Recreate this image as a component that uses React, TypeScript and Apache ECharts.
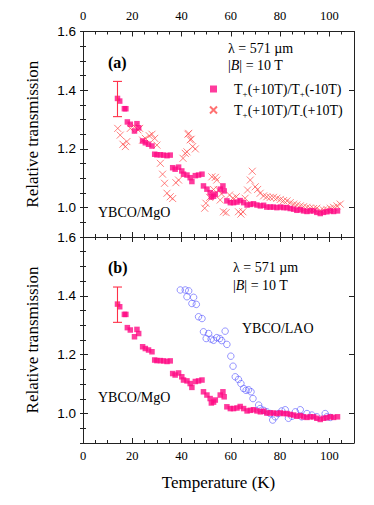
import React, { useEffect, useRef } from "react";
import * as echarts from "echarts";

// ---------- data ----------
const xTickValues = [0, 20, 40, 60, 80, 100];
const yTickValues = [1.0, 1.2, 1.4, 1.6];

// YBCO/MgO : T+(+10T)/T+(-10T)
const mgoT = [14.0, 14.9, 16.8, 17.4, 18.0, 19.2, 20.9, 21.9, 22.6, 24.2, 25.3, 26.6, 28.0, 29.1, 30.0, 31.4, 32.7, 34.1, 35.4, 36.4, 37.4, 38.8, 40.1, 40.8, 42.2, 43.5, 44.2, 45.6, 46.9, 48.3, 48.9, 50.3, 51.6, 52.1, 53.0, 53.7, 55.7, 56.8, 57.3, 58.4, 59.8, 61.1, 62.5, 63.8, 65.2, 66.6, 67.9, 69.2, 70.6, 72.0, 73.3, 74.6, 76.0, 77.3, 78.7, 80.1, 81.4, 82.8, 84.1, 85.5, 86.8, 88.2, 89.5, 90.9, 92.2, 93.6, 94.9, 96.3, 97.6, 99.0, 100.4, 101.7, 103.3];
const mgoR = [1.372, 1.363, 1.337, 1.337, 1.292, 1.284, 1.261, 1.286, 1.272, 1.227, 1.221, 1.216, 1.210, 1.182, 1.180, 1.180, 1.179, 1.177, 1.179, 1.136, 1.131, 1.138, 1.125, 1.114, 1.111, 1.102, 1.089, 1.109, 1.111, 1.114, 1.074, 1.063, 1.051, 1.036, 1.039, 1.046, 1.063, 1.074, 1.057, 1.023, 1.017, 1.017, 1.019, 1.024, 1.017, 1.009, 1.011, 1.013, 1.009, 1.006, 1.008, 1.002, 1.002, 1.002, 1.000, 1.002, 1.000, 1.000, 0.997, 0.995, 0.991, 0.993, 0.989, 0.987, 0.989, 0.989, 0.984, 0.980, 0.984, 0.986, 0.989, 0.987, 0.989];

// T+(+10T)/T-(+10T)
const crossT = [14.1, 15.1, 16.2, 17.2, 17.8, 19.2, 21.0, 22.3, 23.0, 24.2, 25.3, 26.9, 28.0, 29.1, 30.0, 31.4, 32.3, 33.1, 34.1, 35.4, 36.4, 37.7, 38.8, 40.6, 41.5, 42.2, 42.6, 42.9, 43.5, 43.9, 44.5, 45.6, 49.4, 49.9, 51.4, 52.3, 53.0, 53.7, 54.3, 55.0, 55.7, 56.2, 57.0, 58.1, 59.5, 60.8, 62.2, 63.1, 64.1, 64.9, 65.8, 66.8, 67.9, 68.7, 69.9, 70.9, 71.9, 73.3, 74.6, 76.0, 77.3, 78.7, 80.1, 81.4, 82.8, 84.1, 85.5, 86.8, 88.2, 89.5, 90.9, 92.2, 93.6, 94.9, 96.3, 97.6, 99.0, 100.4, 101.7, 103.1, 104.4];
const crossR = [1.270, 1.247, 1.216, 1.208, 1.225, 1.270, 1.276, 1.265, 1.270, 1.230, 1.236, 1.245, 1.250, 1.236, 1.213, 1.151, 1.114, 1.083, 1.049, 1.037, 1.031, 1.085, 1.094, 1.168, 1.185, 1.190, 1.250, 1.253, 1.231, 1.233, 1.208, 1.200, 0.998, 1.015, 1.035, 1.105, 1.062, 1.103, 1.094, 1.060, 1.026, 1.047, 0.986, 0.983, 1.043, 1.032, 1.037, 0.986, 0.978, 0.986, 1.032, 1.060, 1.094, 1.124, 1.071, 1.062, 1.049, 1.040, 1.037, 1.035, 1.035, 1.032, 1.028, 1.024, 1.023, 1.017, 1.012, 1.009, 1.006, 1.003, 1.001, 0.998, 0.997, 0.998, 0.990, 0.992, 0.994, 0.998, 1.001, 1.006, 1.012];

// YBCO/LAO
const laoT = [39.5, 41.5, 42.9, 42.2, 44.9, 44.2, 46.0, 46.9, 48.3, 48.9, 50.0, 51.0, 52.0, 53.0, 54.3, 55.5, 56.3, 57.7, 58.4, 60.0, 60.9, 61.8, 63.1, 64.1, 65.2, 66.2, 67.2, 68.2, 69.0, 71.3, 71.9, 73.3, 74.6, 76.0, 77.0, 78.0, 79.3, 80.7, 82.1, 83.4, 84.8, 86.2, 88.2, 88.8, 90.9, 92.9, 94.9, 98.3, 99.0, 100.4];
const laoR = [1.420, 1.420, 1.417, 1.397, 1.395, 1.374, 1.371, 1.329, 1.323, 1.278, 1.255, 1.272, 1.253, 1.249, 1.258, 1.255, 1.248, 1.280, 1.235, 1.195, 1.161, 1.125, 1.116, 1.102, 1.085, 1.079, 1.081, 1.074, 1.051, 1.029, 1.017, 1.011, 1.006, 1.000, 0.978, 0.989, 1.000, 1.009, 1.013, 0.984, 0.991, 1.006, 1.013, 0.989, 1.000, 0.995, 0.989, 1.000, 0.989, 0.987];

// error bar: [T, low, high]
const errorBar = [[14.0, 1.31, 1.43]];

const name1 = "T+(+10T)/T+(-10T)";
const name2 = "T+(+10T)/T-(+10T)";

// ---------- styling ----------
const SERIF = "'Liberation Serif', 'DejaVu Serif', serif";
const SANS = "'Liberation Sans', Arial, sans-serif";
const PINK = "#ff0a84";
const RED = "#ff4d4d";
const BLUE = "#5a5aff";
const ERR = "#ff3048";

const GRID_LEFT = 83;
const GRID_RIGHT = 20;
const GRIDS = [
  { left: GRID_LEFT, right: GRID_RIGHT, top: 31.5, height: 205.5 },
  { left: GRID_LEFT, right: GRID_RIGHT, top: 237, height: 206 },
];

function xAxes(gridIndex: number, position: string, showLabels: boolean, name?: string) {
  const major: any = {
    type: "value",
    gridIndex,
    position,
    min: 0,
    max: 110,
    axisLine: { show: true, onZero: false, lineStyle: { color: "#222", width: 1 } },
    axisTick: { show: true, inside: true, length: 5, customValues: xTickValues, lineStyle: { color: "#222" } },
    axisLabel: { show: showLabels, customValues: xTickValues, fontFamily: SERIF, fontSize: 12.5, color: "#000", margin: position === "top" ? 9 : 6 },
    splitLine: { show: false },
  };
  if (name) {
    major.name = name;
    major.nameLocation = "middle";
    major.nameGap = 31;
    major.nameTextStyle = { fontFamily: SERIF, fontSize: 17, color: "#000" };
  }
  const minor: any = {
    type: "value",
    gridIndex,
    position,
    min: 0,
    max: 110,
    interval: 5,
    axisLine: { show: false },
    axisTick: { show: true, inside: true, length: 3, lineStyle: { color: "#222" } },
    axisLabel: { show: false },
    splitLine: { show: false },
  };
  return [major, minor];
}

function yAxes(gridIndex: number, position: string, showLabels: boolean, name?: string) {
  const major: any = {
    type: "value",
    gridIndex,
    position,
    min: 0.9,
    max: 1.6,
    axisLine: { show: true, onZero: false, lineStyle: { color: "#222", width: 1 } },
    axisTick: { show: true, inside: true, length: 5, customValues: yTickValues, lineStyle: { color: "#222" } },
    axisLabel: {
      show: showLabels,
      customValues: yTickValues,
      fontFamily: SANS,
      fontSize: 13.5,
      color: "#000",
      margin: 7,
      formatter: (v: number) => v.toFixed(1),
    },
    splitLine: { show: false },
  };
  if (name) {
    major.name = name;
    major.nameLocation = "middle";
    major.nameGap = 42;
    major.nameTextStyle = { fontFamily: SERIF, fontSize: 17, color: "#000" };
  }
  const minor: any = {
    type: "value",
    gridIndex,
    position,
    min: 0.9,
    max: 1.6,
    interval: 0.05,
    axisLine: { show: false },
    axisTick: { show: true, inside: true, length: 3, lineStyle: { color: "#222" } },
    axisLabel: { show: false },
    splitLine: { show: false },
  };
  return [major, minor];
}

const zip = (a: number[], b: number[]) => a.map((v, i) => [v, b[i]]);

function errorSeries(xIdx: number, yIdx: number) {
  return {
    type: "custom",
    xAxisIndex: xIdx,
    yAxisIndex: yIdx,
    data: errorBar,
    encode: { x: 0, y: [1, 2] },
    silent: true,
    z: 5,
    renderItem: (params: any, api: any) => {
      const x = api.value(0);
      const lo = api.coord([x, api.value(1)]);
      const hi = api.coord([x, api.value(2)]);
      const w = 4.5;
      const style = { stroke: ERR, lineWidth: 1.1 };
      return {
        type: "group",
        children: [
          { type: "line", shape: { x1: lo[0], y1: lo[1], x2: hi[0], y2: hi[1] }, style },
          { type: "line", shape: { x1: lo[0] - w, y1: lo[1], x2: lo[0] + w, y2: lo[1] }, style },
          { type: "line", shape: { x1: hi[0] - w, y1: hi[1], x2: hi[0] + w, y2: hi[1] }, style },
        ],
      };
    },
  };
}

const CROSS = "path://M0,0L10,10M10,0L0,10";

const richSub = {
  g: { width: 12 },
  n: { fontFamily: SERIF, fontSize: 14, color: "#000", lineHeight: 18, verticalAlign: "middle" },
  s: { fontFamily: SERIF, fontSize: 9, color: "#000", lineHeight: 18, verticalAlign: "bottom" },
};

export default function App() {
  const ref = useRef<HTMLDivElement>(null);
  useEffect(() => {
    if (!ref.current) return;
    const chart = echarts.init(ref.current, undefined, { renderer: "svg" });
    const option: any = {
      animation: false,
      backgroundColor: "#fff",
      grid: GRIDS,
      xAxis: [
        ...xAxes(0, "top", true),
        ...xAxes(0, "bottom", false),
        ...xAxes(1, "top", false),
        ...xAxes(1, "bottom", true, "Temperature (K)"),
      ],
      yAxis: [
        ...yAxes(0, "left", true, "Relative transmission"),
        ...yAxes(0, "right", false),
        ...yAxes(1, "left", true, "Relative transmission"),
        ...yAxes(1, "right", false),
      ],
      legend: {
        data: [
          { name: name1, icon: "rect" },
          { name: name2 },
        ],
        orient: "vertical",
        left: 204,
        top: 77,
        itemWidth: 7,
        itemHeight: 7,
        itemGap: 5,
        formatter: (n: string) =>
          n === name1
            ? "{g|}{n|T}{s|+}{n|(+10T)/T}{s|+}{n|(-10T)}"
            : "{g|}{n|T}{s|+}{n|(+10T)/T}{s|-}{n|(+10T)}",
        textStyle: { fontFamily: SERIF, fontSize: 14, color: "#000", rich: richSub },
      },
      graphic: [
        { type: "text", x: 108, y: 62, style: { text: "(a)", font: `bold 16px ${SERIF}`, fill: "#000", verticalAlign: "middle" } },
        { type: "text", x: 108, y: 267, style: { text: "(b)", font: `bold 16px ${SERIF}`, fill: "#000", verticalAlign: "middle" } },
        { type: "text", x: 228, y: 48, style: { text: "λ = 571 µm", font: `14px ${SERIF}`, fill: "#000", verticalAlign: "middle" } },
        {
          type: "text", x: 228, y: 65,
          style: {
            text: "{t||}{i|B}{t|| = 10 T}", verticalAlign: "middle",
            rich: { t: { fontFamily: SERIF, fontSize: 14, fill: "#000" }, i: { fontFamily: SERIF, fontSize: 14, fontStyle: "italic", fill: "#000" } },
          },
        },
        { type: "text", x: 233, y: 267, style: { text: "λ = 571 µm", font: `14px ${SERIF}`, fill: "#000", verticalAlign: "middle" } },
        {
          type: "text", x: 233, y: 285,
          style: {
            text: "{t||}{i|B}{t|| = 10 T}", verticalAlign: "middle",
            rich: { t: { fontFamily: SERIF, fontSize: 14, fill: "#000" }, i: { fontFamily: SERIF, fontSize: 14, fontStyle: "italic", fill: "#000" } },
          },
        },
        { type: "text", x: 98, y: 212, style: { text: "YBCO/MgO", font: `14px ${SERIF}`, fill: "#000", verticalAlign: "middle" } },
        { type: "text", x: 98, y: 397, style: { text: "YBCO/MgO", font: `14px ${SERIF}`, fill: "#000", verticalAlign: "middle" } },
        { type: "text", x: 242, y: 328, style: { text: "YBCO/LAO", font: `14px ${SERIF}`, fill: "#000", verticalAlign: "middle" } },
      ],
      series: [
        {
          name: name2, type: "scatter", xAxisIndex: 0, yAxisIndex: 0,
          data: zip(crossT, crossR), symbol: CROSS, symbolSize: 7,
          itemStyle: { color: "rgba(0,0,0,0)", borderColor: RED, borderWidth: 0.9 },
          z: 2,
        },
        {
          name: name1, type: "scatter", xAxisIndex: 0, yAxisIndex: 0,
          data: zip(mgoT, mgoR), symbol: "rect", symbolSize: 5.5,
          itemStyle: { color: PINK }, z: 3,
        },
        errorSeries(0, 0),
        {
          name: "YBCO/LAO", type: "scatter", xAxisIndex: 4, yAxisIndex: 4,
          data: zip(laoT, laoR), symbol: "circle", symbolSize: 6.5,
          itemStyle: { color: "rgba(255,255,255,0)", borderColor: BLUE, borderWidth: 0.8 }, z: 2,
        },
        {
          name: "YBCO/MgO b", type: "scatter", xAxisIndex: 4, yAxisIndex: 4,
          data: zip(mgoT, mgoR), symbol: "rect", symbolSize: 5.5,
          itemStyle: { color: PINK }, z: 3,
        },
        errorSeries(4, 4),
      ],
    };
    chart.setOption(option);
    return () => chart.dispose();
  }, []);
  return <div ref={ref} style={{ position: "absolute", left: 0, top: 0, width: 374, height: 505 }} />;
}
